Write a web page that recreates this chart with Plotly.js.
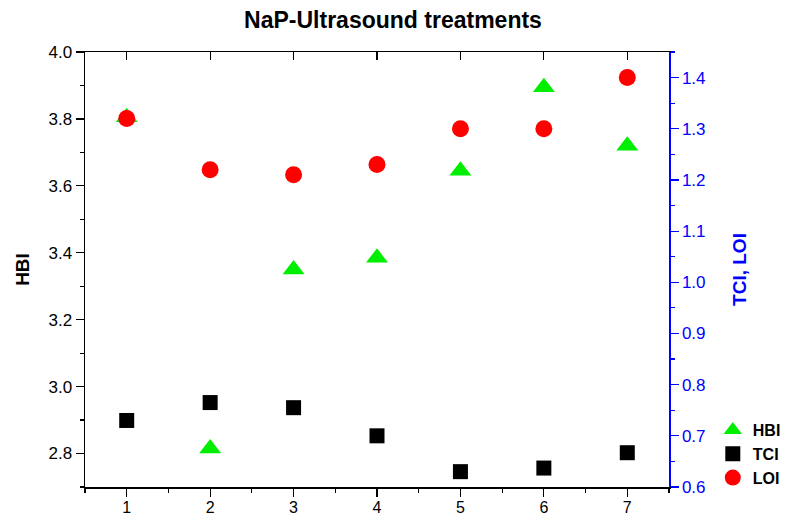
<!DOCTYPE html>
<html>
<head>
<meta charset="utf-8">
<script src="https://cdn.plot.ly/plotly-3.0.1.min.js"></script>
<style>
  html, body { margin: 0; padding: 0; background: #fff; }
  #chart { width: 786px; height: 519px; }
</style>
</head>
<body>
<div id="chart"></div>
<script>
// Treatment number on the x axis
const treatments = [1, 2, 3, 4, 5, 6, 7];
// HBI on the left axis
const hbi = [3.805, 2.815, 3.35, 3.385, 3.645, 3.895, 3.72];
// TCI and LOI on the right axis
const tci = [0.73, 0.765, 0.755, 0.70, 0.63, 0.637, 0.667];
const loi = [1.32, 1.22, 1.21, 1.23, 1.30, 1.30, 1.40];

const FONT = 'Liberation Sans, Arial, sans-serif';
const BLUE = '#0000ff';

const traces = [
  {
    x: treatments, y: hbi, name: 'HBI', type: 'scatter', mode: 'markers',
    marker: { symbol: 'triangle-up', size: 19, color: '#00ee00' },
    xaxis: 'x', yaxis: 'y'
  },
  {
    x: treatments, y: tci, name: 'TCI', type: 'scatter', mode: 'markers',
    marker: { symbol: 'square', size: 15, color: '#000000' },
    xaxis: 'x', yaxis: 'y2'
  },
  {
    x: treatments, y: loi, name: 'LOI', type: 'scatter', mode: 'markers',
    marker: { symbol: 'circle', size: 17, color: '#ff0000' },
    xaxis: 'x', yaxis: 'y2'
  },
  // transparent point that binds the top axis so its inside ticks are drawn
  {
    x: [treatments[0]], y: [hbi[0]], xaxis: 'x2', yaxis: 'y', type: 'scatter', mode: 'markers',
    marker: { opacity: 0 }, showlegend: false, hoverinfo: 'skip'
  }
];

const layout = {
  width: 786, height: 519,
  margin: { l: 85, r: 117, t: 52, b: 32, autoexpand: false },
  paper_bgcolor: '#ffffff', plot_bgcolor: '#ffffff',
  font: { family: FONT, size: 17, color: '#000' },
  showlegend: true,
  title: {
    text: 'NaP-Ultrasound treatments',
    font: { family: FONT, size: 23, weight: 'bold', color: '#000' },
    x: 0.5, xref: 'container', y: 0.962, yanchor: 'middle'
  },
  xaxis: {
    range: [0.5, 7.5], dtick: 1, tick0: 1,
    showgrid: false, zeroline: false, automargin: false,
    showline: true, linecolor: '#000', linewidth: 1.5,
    ticks: 'outside', ticklen: 8, tickwidth: 1.2, tickcolor: '#000',
    minor: { dtick: 0.5, tick0: 0.5, ticks: 'outside', ticklen: 4, tickwidth: 1.2, tickcolor: '#000', showgrid: false },
    tickfont: { family: FONT, size: 16, color: '#000' },
    ticklabelstandoff: -3
  },
  xaxis2: {
    overlaying: 'x', side: 'top', matches: 'x', range: [0.5, 7.5], dtick: 1, tick0: 1,
    showgrid: false, zeroline: false, automargin: false,
    showline: true, linecolor: '#000', linewidth: 1.5,
    ticks: 'inside', ticklen: 8, tickwidth: 1.2, tickcolor: '#000',
    showticklabels: false
  },
  yaxis: {
    range: [2.7, 4.0], dtick: 0.2, tick0: 2.8,
    tickformat: '.1f',
    showgrid: false, zeroline: false, automargin: false,
    showline: true, linecolor: '#000', linewidth: 1.5,
    ticks: 'outside', ticklen: 8, tickwidth: 1.2, tickcolor: '#000',
    minor: { dtick: 0.1, tick0: 2.7, ticks: 'outside', ticklen: 4, tickwidth: 1.2, tickcolor: '#000', showgrid: false },
    tickfont: { family: FONT, size: 17, color: '#000' },
    title: { text: 'HBI', font: { family: FONT, size: 19, weight: 'bold', color: '#000' }, standoff: 14 }
  },
  yaxis2: {
    overlaying: 'y', side: 'right', range: [0.6, 1.45], dtick: 0.1, tick0: 0.6,
    tickformat: '.1f',
    showgrid: false, zeroline: false, automargin: false,
    showline: true, linecolor: BLUE, linewidth: 1.5,
    ticks: 'outside', ticklen: 8, tickwidth: 1.2, tickcolor: BLUE,
    minor: { dtick: 0.05, tick0: 0.6, ticks: 'outside', ticklen: 4, tickwidth: 1.2, tickcolor: BLUE, showgrid: false },
    tickfont: { family: FONT, size: 17, color: BLUE },
    title: { text: 'TCI, LOI', font: { family: FONT, size: 19, weight: 'bold', color: BLUE }, standoff: 28 }
  },
  legend: {
    x: 1.075, xanchor: 'left', y: 0.17, yanchor: 'top',
    bgcolor: 'rgba(0,0,0,0)', borderwidth: 0,
    font: { family: FONT, size: 16, weight: 'bold', color: '#000' },
    itemsizing: 'trace', tracegroupgap: 0
  }
};

Plotly.newPlot('chart', traces, layout, { staticPlot: true });
</script>
</body>
</html>
